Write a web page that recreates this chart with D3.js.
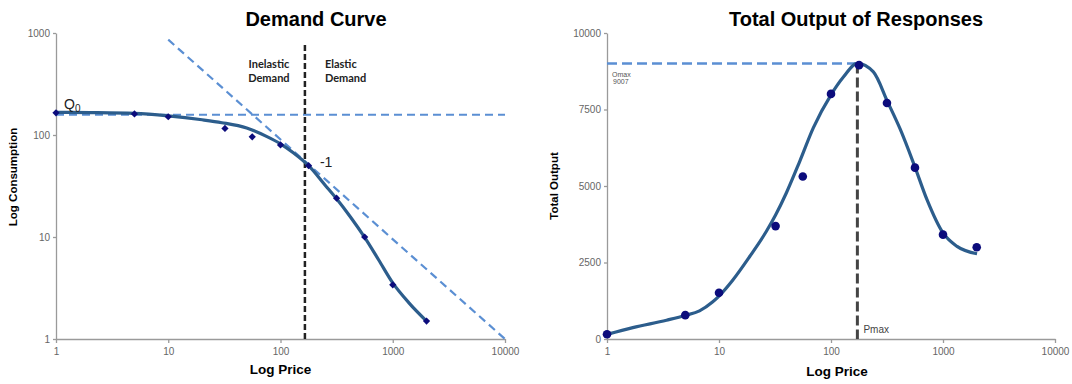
<!DOCTYPE html>
<html>
<head>
<meta charset="utf-8">
<script src="https://cdn.jsdelivr.net/npm/d3@7"></script>
<style>
  body { margin: 0; background: #fff; }
  svg { display: block; font-family: Arial, "Liberation Sans", sans-serif; }
  .axis path, .axis line { stroke: #9a9a9a; stroke-width: 1.3; }
  .axis text { fill: #666; font-size: 10px; }
</style>
</head>
<body>
<svg id="chart" width="1072" height="384"></svg>
<script>
// observed points (price, consumption, price x consumption)
const prices = [1, 5, 10, 32, 56, 100, 178, 316, 562, 1000, 2000];
const consumption = [165, 161, 151, 116, 96, 80, 50, 24, 10, 3.4, 1.5];
const totalOutput = [155, 780, 1510, 3690, 5310, 8010, 8950, 7710, 5600, 3410, 3000];

// fitted demand curve
const demandFitPrice = [1, 2, 5, 10, 20, 30, 50, 75, 100, 130, 178, 250, 316, 420, 562, 750, 1000, 1400, 2000];
const demandFitQ = [167, 166, 163, 154, 141, 132, 117, 97, 82, 67, 50, 32.2, 23.7, 15.7, 9.9, 5.95, 3.55, 2.25, 1.5];

// fitted output curve
const outputFitPrice = [1, 1.7, 3.4, 5, 6.7, 8.8, 10, 13.3, 18.8, 26.5, 32, 40, 52.5, 69.5, 100, 129, 172, 239, 321, 414, 557, 718, 1000, 1334, 2014];
const outputFitValue = [150, 373, 614, 770, 921, 1217, 1404, 1930, 2697, 3520, 4050, 4780, 5800, 6900, 7980, 8560, 9007, 8728, 7741, 6864, 5658, 4561, 3465, 3026, 2785];

// reference lines
const q0 = 158;
const splitPrice = 165;   // elastic / inelastic split on the demand chart
const pmax = 172;
const omax = 9007;
const slopePrice = [10, 10000];
const slopeQ = [860, 1];

// ticks
const priceTicks = [1, 10, 100, 1000, 10000];
const demandTicks = [1, 10, 100, 1000];
const outputTicks = [0, 2500, 5000, 7500, 10000];

const curveBlue = "#2c5d8c";
const dotBlue = "#0c0c7c";
const dashBlue = "#5b8fd3";

const svg = d3.select("#chart");

// ---------- left: demand curve ----------
let xL = d3.scaleLog().domain([1, 10000]).range([56, 505]);
let yL = d3.scaleLog().domain([1, 1000]).range([339, 33]);

let gL = svg.append("g");

gL.append("g").attr("class", "axis")
  .attr("transform", `translate(0,${yL(1)})`)
  .call(d3.axisBottom(xL).tickValues(priceTicks).tickFormat(d3.format("d")).tickSize(4).tickSizeOuter(0))
  .selectAll("text").attr("dy", "0.9em");

gL.append("g").attr("class", "axis")
  .attr("transform", `translate(${xL(1)},0)`)
  .call(d3.axisLeft(yL).tickValues(demandTicks).tickFormat(d3.format("d")).tickSize(3).tickSizeOuter(0));

// Q0 line and slope -1 line
gL.append("line")
  .attr("x1", xL(1)).attr("x2", xL(10000))
  .attr("y1", yL(q0)).attr("y2", yL(q0))
  .attr("stroke", dashBlue).attr("stroke-width", 2.2).attr("stroke-dasharray", "8,5");

gL.append("line")
  .attr("x1", xL(slopePrice[0])).attr("y1", yL(slopeQ[0]))
  .attr("x2", xL(slopePrice[1])).attr("y2", yL(slopeQ[1]))
  .attr("stroke", dashBlue).attr("stroke-width", 2.2).attr("stroke-dasharray", "8,5");

// elastic / inelastic split
gL.append("line")
  .attr("x1", xL(splitPrice)).attr("x2", xL(splitPrice))
  .attr("y1", 45).attr("y2", yL(1))
  .attr("stroke", "#222").attr("stroke-width", 2.5).attr("stroke-dasharray", "6,3");

let lineL = d3.line()
  .x((d, i) => xL(demandFitPrice[i]))
  .y(d => yL(d))
  .curve(d3.curveMonotoneX);

gL.append("path")
  .attr("d", lineL(demandFitQ))
  .attr("fill", "none").attr("stroke", curveBlue).attr("stroke-width", 3.2);

gL.selectAll(".pt")
  .data(consumption)
  .join("path")
    .attr("class", "pt")
    .attr("d", d3.symbol().type(d3.symbolSquare).size(26))
    .attr("transform", (d, i) => `translate(${xL(prices[i])},${yL(d)}) rotate(45)`)
    .attr("fill", dotBlue);

// labels
gL.append("text").attr("x", 316).attr("y", 26)
  .attr("text-anchor", "middle").attr("font-size", 20).attr("font-weight", "bold")
  .text("Demand Curve");

gL.append("text").attr("x", (xL(1) + xL(10000)) / 2).attr("y", 374)
  .attr("text-anchor", "middle").attr("font-size", 13.5).attr("font-weight", "bold")
  .text("Log Price");

gL.append("text")
  .attr("transform", `translate(17,${(yL(1) + yL(1000)) / 2 - 9}) rotate(-90)`)
  .attr("text-anchor", "middle").attr("font-size", 11.5).attr("font-weight", "bold")
  .text("Log Consumption");

let q0Label = gL.append("text").attr("x", xL(1) + 8).attr("y", 109).attr("font-size", 14).attr("fill", "#222");
q0Label.append("tspan").text("Q");
q0Label.append("tspan").attr("font-size", 10).attr("dy", 3).text("0");

gL.append("text").attr("x", xL(splitPrice) + 15).attr("y", 167)
  .attr("font-size", 14).attr("fill", "#222").text("-1");

let demandLbl = gL.append("g").attr("font-family", "Lato, 'Open Sans', sans-serif")
  .attr("font-size", 11).attr("font-weight", "bold").attr("fill", "#222");
demandLbl.append("text").attr("x", xL(splitPrice) - 36).attr("y", 68).attr("text-anchor", "middle").text("Inelastic");
demandLbl.append("text").attr("x", xL(splitPrice) - 36).attr("y", 82).attr("text-anchor", "middle").text("Demand");
demandLbl.append("text").attr("x", xL(splitPrice) + 20).attr("y", 68).text("Elastic");
demandLbl.append("text").attr("x", xL(splitPrice) + 20).attr("y", 82).text("Demand");

// ---------- right: total output ----------
let xR = d3.scaleLog().domain([1, 10000]).range([607, 1055]);
let yR = d3.scaleLinear().domain([0, 10000]).range([339, 33]);

let gR = svg.append("g");

gR.append("g").attr("class", "axis")
  .attr("transform", `translate(0,${yR(0)})`)
  .call(d3.axisBottom(xR).tickValues(priceTicks).tickFormat(d3.format("d")).tickSize(4).tickSizeOuter(0))
  .selectAll("text").attr("dy", "0.9em");

gR.append("g").attr("class", "axis")
  .attr("transform", `translate(${xR(1)},0)`)
  .call(d3.axisLeft(yR).tickValues(outputTicks).tickFormat(d3.format("d")).tickSize(3).tickSizeOuter(0));

// Omax / Pmax guides
gR.append("line")
  .attr("x1", xR(1)).attr("x2", xR(pmax))
  .attr("y1", yR(omax)).attr("y2", yR(omax))
  .attr("stroke", dashBlue).attr("stroke-width", 2.5).attr("stroke-dasharray", "10,5");

gR.append("line")
  .attr("x1", xR(pmax)).attr("x2", xR(pmax))
  .attr("y1", yR(omax)).attr("y2", yR(0))
  .attr("stroke", "#444").attr("stroke-width", 3).attr("stroke-dasharray", "10,4");

let lineR = d3.line()
  .x((d, i) => xR(outputFitPrice[i]))
  .y(d => yR(d))
  .curve(d3.curveMonotoneX);

gR.append("path")
  .attr("d", lineR(outputFitValue))
  .attr("fill", "none").attr("stroke", curveBlue).attr("stroke-width", 3.2);

gR.selectAll(".dot")
  .data(totalOutput)
  .join("circle")
    .attr("class", "dot")
    .attr("cx", (d, i) => xR(prices[i]))
    .attr("cy", d => yR(d))
    .attr("r", 4.3)
    .attr("fill", dotBlue);

gR.append("text").attr("x", 856).attr("y", 26)
  .attr("text-anchor", "middle").attr("font-size", 20).attr("font-weight", "bold")
  .text("Total Output of Responses");

gR.append("text").attr("x", 837).attr("y", 376)
  .attr("text-anchor", "middle").attr("font-size", 13.5).attr("font-weight", "bold")
  .text("Log Price");

gR.append("text")
  .attr("transform", `translate(558,${(yR(0) + yR(10000)) / 2}) rotate(-90)`)
  .attr("text-anchor", "middle").attr("font-size", 11.5).attr("font-weight", "bold")
  .text("Total Output");

gR.append("text").attr("x", xR(1) + 5).attr("y", yR(omax) + 14)
  .attr("font-size", 7).attr("fill", "#555").text("Omax");
gR.append("text").attr("x", xR(1) + 6).attr("y", yR(omax) + 21)
  .attr("font-size", 7).attr("fill", "#555").text(omax);

gR.append("text").attr("x", xR(pmax) + 6).attr("y", 333)
  .attr("font-size", 10).attr("fill", "#444").text("Pmax");
</script>
</body>
</html>
